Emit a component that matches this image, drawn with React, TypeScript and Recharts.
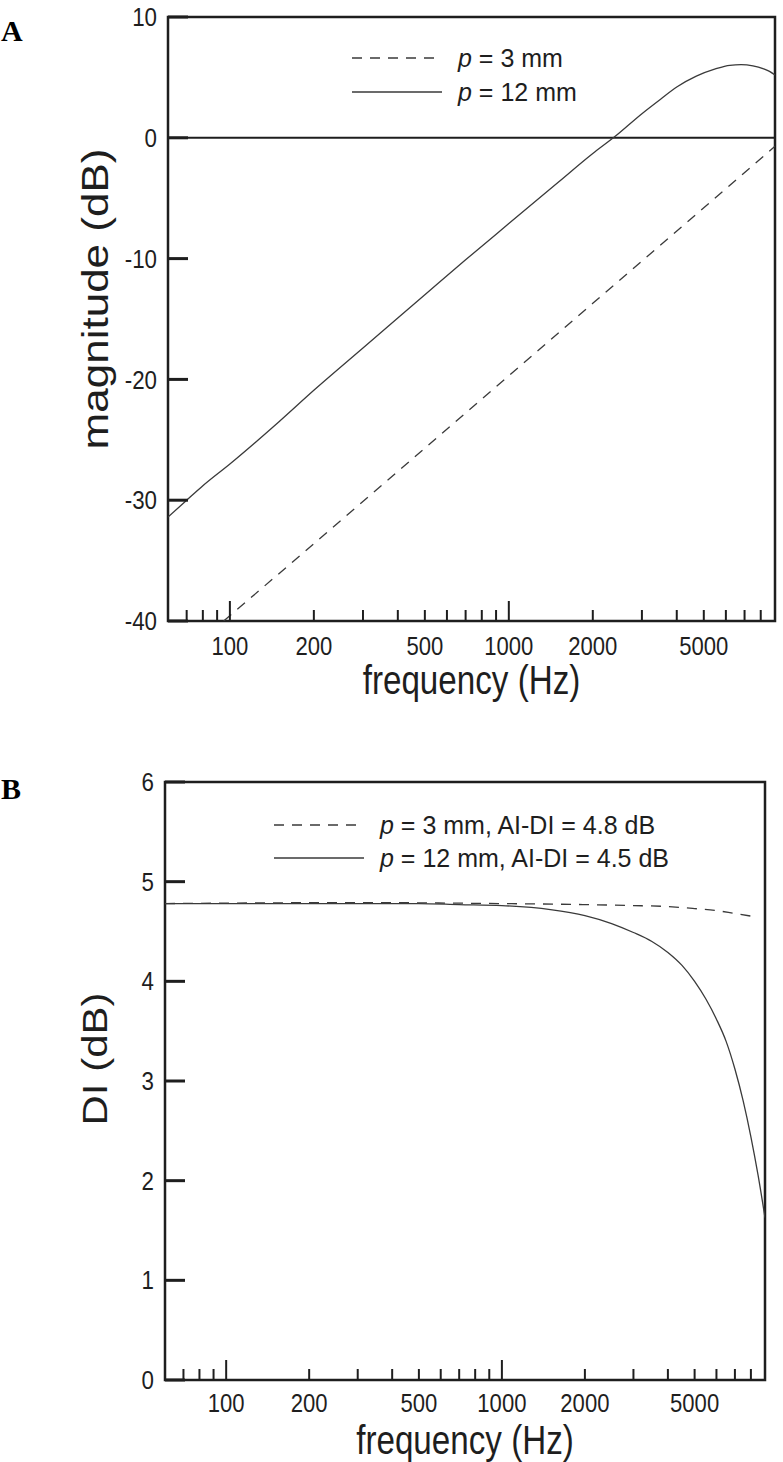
import React from 'react';
import { LineChart, Line, XAxis, YAxis, ReferenceArea, ReferenceLine, Label } from 'recharts';

// frequency axis (log), shared by both panels
const freqTicks = [70, 80, 90, 100, 200, 300, 400, 500, 600, 700, 800, 900, 1000, 2000, 3000, 4000, 5000, 6000, 7000, 8000];
const freqLabels = [100, 200, 500, 1000, 2000, 5000];
const longTicks = [100, 1000];
const magTicks = [-40, -30, -20, -10, 0, 10];
const diTicks = [0, 1, 2, 3, 4, 5, 6];

// panel A: magnitude (dB)
const magFreq12 = [60, 70, 80, 100, 150, 200, 300, 500, 700, 1000, 1500, 2000, 2400, 3000, 3500, 4000, 4700, 5500, 6200, 6800, 7500, 8200, 8600, 9000];
const mag12 = [-31.4, -30.0, -28.8, -27.0, -23.5, -20.9, -17.4, -13.0, -10.1, -7.1, -3.7, -1.3, 0.1, 2.0, 3.2, 4.2, 5.1, 5.7, 6.0, 6.05, 5.95, 5.7, 5.5, 5.2];
const magFreq3 = [95, 200, 500, 1000, 2000, 5000, 9000];
const mag3 = [-40, -33.6, -25.7, -19.7, -13.7, -5.8, -0.7];

// panel B: DI (dB)
const diFreq12 = [60, 200, 500, 700, 1000, 1500, 2000, 2500, 3000, 3500, 4000, 4500, 5000, 5500, 6000, 6500, 7000, 7500, 8000, 8500, 9000];
const di12 = [4.78, 4.78, 4.78, 4.77, 4.76, 4.72, 4.66, 4.58, 4.49, 4.4, 4.29, 4.16, 4.0, 3.82, 3.62, 3.4, 3.12, 2.8, 2.44, 2.05, 1.63];
const diFreq3 = [60, 300, 1000, 2000, 3000, 4000, 5000, 6000, 7000, 8200];
const di3 = [4.78, 4.79, 4.78, 4.77, 4.76, 4.75, 4.73, 4.71, 4.68, 4.65];

const toRows = (fs: number[], vs: number[]) => fs.map((f, i) => ({ f, v: vs[i] }));

const INK = '#1e1e1e';
const CURVE = '#3a3a3a';
const SANS = "'Liberation Sans', Arial, sans-serif";

// the original figure is squeezed sideways, so text is drawn narrower than it is tall
const SqText = ({ x, y, sx = 1, rotate = 0, children, ...rest }: any) => (
  <g transform={`translate(${x},${y}) scale(${sx},1) rotate(${rotate})`}>
    <text x={0} y={0} fontFamily={SANS} fill={INK} dominantBaseline="central" {...rest}>
      {children}
    </text>
  </g>
);

const FreqTick = (props: any) => {
  const { x, y, payload } = props;
  const v = payload.value;
  return (
    <g>
      <line x1={x} x2={x} y1={y} y2={y - (longTicks.includes(v) ? 20 : 11)} stroke={INK} strokeWidth={2} />
      {freqLabels.includes(v) && (
        <SqText x={x} y={y + props.gap} sx={0.85} textAnchor="middle" fontSize={26}>
          {v}
        </SqText>
      )}
    </g>
  );
};

const ValueTick = (props: any) => {
  const { x, y, payload } = props;
  return (
    <g>
      <line x1={x} x2={x + 20} y1={y} y2={y} stroke={INK} strokeWidth={3} />
      <SqText x={x - 11} y={y} sx={0.86} textAnchor="end" fontSize={26}>
        {payload.value}
      </SqText>
    </g>
  );
};

const XTitle = ({ viewBox, text, dy }: any) => (
  <SqText x={viewBox.x + viewBox.width / 2} y={viewBox.y + dy} sx={0.83} textAnchor="middle" fontSize={40}>
    {text}
  </SqText>
);

const YTitle = ({ viewBox, text, cx, dy, size }: any) => (
  <SqText x={cx} y={viewBox.y + viewBox.height / 2 + dy} sx={0.85} rotate={-90} textAnchor="middle" fontSize={size}>
    {text}
  </SqText>
);

const LegendRow = ({ x, y, dashed, label, size }: any) => (
  <g>
    <line x1={x} x2={x + 90} y1={y} y2={y} stroke={CURVE} strokeWidth={1.4} strokeDasharray={dashed ? '10 8' : undefined} />
    <text x={x + 106} y={y} dominantBaseline="central" fontFamily={SANS} fontSize={size} fill={INK}>
      <tspan fontStyle="italic">p</tspan>
      {label}
    </text>
  </g>
);

const panelLetter: React.CSSProperties = {
  position: 'absolute',
  left: 1,
  fontFamily: "'Liberation Serif', 'DejaVu Serif', serif",
  fontWeight: 'bold',
  fontSize: 30,
  lineHeight: 1,
};

export default function App() {
  return (
    <div style={{ position: 'absolute', left: 0, top: 0, width: 783, height: 1462, background: '#fff' }}>
      <div style={{ ...panelLetter, top: 16 }}>A</div>
      <div style={{ ...panelLetter, top: 774 }}>B</div>

      <div style={{ position: 'absolute', left: 0, top: 0 }}>
        <LineChart width={783} height={710} margin={{ top: 17, right: 8, bottom: 0, left: 0 }}>
          <XAxis dataKey="f" type="number" scale="log" domain={[60, 9000]} ticks={freqTicks} interval={0} allowDataOverflow
            axisLine={false} tickLine={false} tickSize={0} tickMargin={0} height={89} tick={(p: any) => <FreqTick {...p} gap={25} />}>
            <Label content={(p: any) => <XTitle {...p} text="frequency (Hz)" dy={59} />} />
          </XAxis>
          <YAxis type="number" domain={[-40, 10]} ticks={magTicks} interval={0} allowDataOverflow
            axisLine={false} tickLine={false} tickSize={0} tickMargin={0} width={168} tick={(p: any) => <ValueTick {...p} />}>
            <Label content={(p: any) => <YTitle {...p} text="magnitude (dB)" cx={95} dy={-20} size={44} />} />
          </YAxis>
          <ReferenceLine y={0} stroke={INK} strokeWidth={2} />
          <Line data={toRows(magFreq3, mag3)} dataKey="v" type="monotone" stroke={CURVE} strokeWidth={1.3} strokeDasharray="10 8" dot={false} isAnimationActive={false} />
          <Line data={toRows(magFreq12, mag12)} dataKey="v" type="monotone" stroke={CURVE} strokeWidth={1.3} dot={false} isAnimationActive={false} />
          <ReferenceArea x1={60} x2={9000} y1={-40} y2={10} fill="none" stroke={INK} strokeWidth={2.5} />
        </LineChart>
      </div>

      <div style={{ position: 'absolute', left: 0, top: 720 }}>
        <LineChart width={783} height={742} margin={{ top: 62, right: 18, bottom: 0, left: 0 }}>
          <XAxis dataKey="f" type="number" scale="log" domain={[60, 9000]} ticks={freqTicks} interval={0} allowDataOverflow
            axisLine={false} tickLine={false} tickSize={0} tickMargin={0} height={82} tick={(p: any) => <FreqTick {...p} gap={23} />}>
            <Label content={(p: any) => <XTitle {...p} text="frequency (Hz)" dy={60} />} />
          </XAxis>
          <YAxis type="number" domain={[0, 6]} ticks={diTicks} interval={0} allowDataOverflow
            axisLine={false} tickLine={false} tickSize={0} tickMargin={0} width={165} tick={(p: any) => <ValueTick {...p} />}>
            <Label content={(p: any) => <YTitle {...p} text="DI (dB)" cx={95} dy={-22} size={42} />} />
          </YAxis>
          <Line data={toRows(diFreq3, di3)} dataKey="v" type="monotone" stroke={CURVE} strokeWidth={1.3} strokeDasharray="10 8" dot={false} isAnimationActive={false} />
          <Line data={toRows(diFreq12, di12)} dataKey="v" type="monotone" stroke={CURVE} strokeWidth={1.3} dot={false} isAnimationActive={false} />
          <ReferenceArea x1={60} x2={9000} y1={0} y2={6} fill="none" stroke={INK} strokeWidth={2.5} />
        </LineChart>
      </div>

      <svg width={783} height={1462} style={{ position: 'absolute', left: 0, top: 0, pointerEvents: 'none' }}>
        <LegendRow x={352} y={58} dashed label=" = 3 mm" size={25} />
        <LegendRow x={352} y={92} label=" = 12 mm" size={25} />
        <LegendRow x={274} y={825} dashed label=" = 3 mm, AI-DI = 4.8 dB" size={25} />
        <LegendRow x={274} y={858} label=" = 12 mm, AI-DI = 4.5 dB" size={25} />
      </svg>
    </div>
  );
}
